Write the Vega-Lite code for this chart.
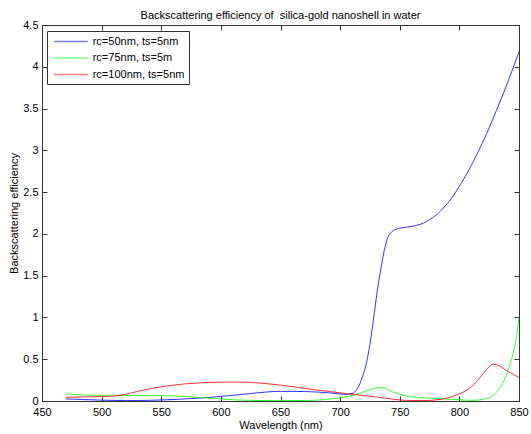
{
  "$schema": "https://vega.github.io/schema/vega-lite/v6.json",
  "width": 477,
  "height": 376,
  "autosize": {"type": "none"},
  "padding": {"left": 42, "top": 25, "right": 12, "bottom": 33},
  "background": "white",
  "config": {
    "font": "Liberation Sans",
    "view": {"stroke": "#333333", "strokeWidth": 1},
    "axis": {"grid": false, "labelFont": "Liberation Sans", "titleFont": "Liberation Sans", "labelFontSize": 11, "titleFontSize": 11, "labelColor": "black", "titleColor": "black", "titleFontWeight": "normal", "domainColor": "#333333", "tickColor": "#333333", "tickSize": -5}
  },
  "title": {"text": "Backscattering efficiency of \u00a0silica-gold nanoshell in water", "font": "Liberation Sans", "fontSize": 11, "fontWeight": "normal", "color": "black", "offset": -2},
  "data": {"values": [
    {"wl": 470, "q": 0.025, "s": "rc=50nm, ts=5nm"},
    {"wl": 480, "q": 0.02, "s": "rc=50nm, ts=5nm"},
    {"wl": 490, "q": 0.015, "s": "rc=50nm, ts=5nm"},
    {"wl": 500, "q": 0.01, "s": "rc=50nm, ts=5nm"},
    {"wl": 510, "q": 0.007, "s": "rc=50nm, ts=5nm"},
    {"wl": 520, "q": 0.005, "s": "rc=50nm, ts=5nm"},
    {"wl": 530, "q": 0.006, "s": "rc=50nm, ts=5nm"},
    {"wl": 540, "q": 0.008, "s": "rc=50nm, ts=5nm"},
    {"wl": 550, "q": 0.012, "s": "rc=50nm, ts=5nm"},
    {"wl": 560, "q": 0.018, "s": "rc=50nm, ts=5nm"},
    {"wl": 570, "q": 0.025, "s": "rc=50nm, ts=5nm"},
    {"wl": 580, "q": 0.033, "s": "rc=50nm, ts=5nm"},
    {"wl": 590, "q": 0.043, "s": "rc=50nm, ts=5nm"},
    {"wl": 600, "q": 0.055, "s": "rc=50nm, ts=5nm"},
    {"wl": 610, "q": 0.068, "s": "rc=50nm, ts=5nm"},
    {"wl": 620, "q": 0.082, "s": "rc=50nm, ts=5nm"},
    {"wl": 630, "q": 0.097, "s": "rc=50nm, ts=5nm"},
    {"wl": 640, "q": 0.11, "s": "rc=50nm, ts=5nm"},
    {"wl": 650, "q": 0.115, "s": "rc=50nm, ts=5nm"},
    {"wl": 660, "q": 0.115, "s": "rc=50nm, ts=5nm"},
    {"wl": 670, "q": 0.113, "s": "rc=50nm, ts=5nm"},
    {"wl": 680, "q": 0.108, "s": "rc=50nm, ts=5nm"},
    {"wl": 690, "q": 0.098, "s": "rc=50nm, ts=5nm"},
    {"wl": 700, "q": 0.085, "s": "rc=50nm, ts=5nm"},
    {"wl": 705, "q": 0.08, "s": "rc=50nm, ts=5nm"},
    {"wl": 710, "q": 0.09, "s": "rc=50nm, ts=5nm"},
    {"wl": 713, "q": 0.12, "s": "rc=50nm, ts=5nm"},
    {"wl": 716, "q": 0.19, "s": "rc=50nm, ts=5nm"},
    {"wl": 719, "q": 0.3, "s": "rc=50nm, ts=5nm"},
    {"wl": 722, "q": 0.45, "s": "rc=50nm, ts=5nm"},
    {"wl": 725, "q": 0.68, "s": "rc=50nm, ts=5nm"},
    {"wl": 728, "q": 0.98, "s": "rc=50nm, ts=5nm"},
    {"wl": 731, "q": 1.3, "s": "rc=50nm, ts=5nm"},
    {"wl": 734, "q": 1.57, "s": "rc=50nm, ts=5nm"},
    {"wl": 737, "q": 1.8, "s": "rc=50nm, ts=5nm"},
    {"wl": 740, "q": 1.96, "s": "rc=50nm, ts=5nm"},
    {"wl": 743, "q": 2.02, "s": "rc=50nm, ts=5nm"},
    {"wl": 746, "q": 2.05, "s": "rc=50nm, ts=5nm"},
    {"wl": 750, "q": 2.07, "s": "rc=50nm, ts=5nm"},
    {"wl": 755, "q": 2.08, "s": "rc=50nm, ts=5nm"},
    {"wl": 760, "q": 2.09, "s": "rc=50nm, ts=5nm"},
    {"wl": 765, "q": 2.105, "s": "rc=50nm, ts=5nm"},
    {"wl": 770, "q": 2.13, "s": "rc=50nm, ts=5nm"},
    {"wl": 775, "q": 2.17, "s": "rc=50nm, ts=5nm"},
    {"wl": 780, "q": 2.22, "s": "rc=50nm, ts=5nm"},
    {"wl": 785, "q": 2.285, "s": "rc=50nm, ts=5nm"},
    {"wl": 790, "q": 2.365, "s": "rc=50nm, ts=5nm"},
    {"wl": 795, "q": 2.46, "s": "rc=50nm, ts=5nm"},
    {"wl": 800, "q": 2.57, "s": "rc=50nm, ts=5nm"},
    {"wl": 805, "q": 2.69, "s": "rc=50nm, ts=5nm"},
    {"wl": 810, "q": 2.82, "s": "rc=50nm, ts=5nm"},
    {"wl": 815, "q": 2.96, "s": "rc=50nm, ts=5nm"},
    {"wl": 820, "q": 3.11, "s": "rc=50nm, ts=5nm"},
    {"wl": 825, "q": 3.27, "s": "rc=50nm, ts=5nm"},
    {"wl": 830, "q": 3.44, "s": "rc=50nm, ts=5nm"},
    {"wl": 835, "q": 3.615, "s": "rc=50nm, ts=5nm"},
    {"wl": 840, "q": 3.795, "s": "rc=50nm, ts=5nm"},
    {"wl": 845, "q": 3.985, "s": "rc=50nm, ts=5nm"},
    {"wl": 850, "q": 4.18, "s": "rc=50nm, ts=5nm"},
    {"wl": 470, "q": 0.085, "s": "rc=75nm, ts=5m"},
    {"wl": 480, "q": 0.075, "s": "rc=75nm, ts=5m"},
    {"wl": 490, "q": 0.07, "s": "rc=75nm, ts=5m"},
    {"wl": 500, "q": 0.068, "s": "rc=75nm, ts=5m"},
    {"wl": 520, "q": 0.066, "s": "rc=75nm, ts=5m"},
    {"wl": 540, "q": 0.065, "s": "rc=75nm, ts=5m"},
    {"wl": 555, "q": 0.063, "s": "rc=75nm, ts=5m"},
    {"wl": 570, "q": 0.055, "s": "rc=75nm, ts=5m"},
    {"wl": 585, "q": 0.04, "s": "rc=75nm, ts=5m"},
    {"wl": 600, "q": 0.025, "s": "rc=75nm, ts=5m"},
    {"wl": 615, "q": 0.012, "s": "rc=75nm, ts=5m"},
    {"wl": 630, "q": 0.006, "s": "rc=75nm, ts=5m"},
    {"wl": 650, "q": 0.004, "s": "rc=75nm, ts=5m"},
    {"wl": 670, "q": 0.006, "s": "rc=75nm, ts=5m"},
    {"wl": 685, "q": 0.015, "s": "rc=75nm, ts=5m"},
    {"wl": 695, "q": 0.03, "s": "rc=75nm, ts=5m"},
    {"wl": 705, "q": 0.05, "s": "rc=75nm, ts=5m"},
    {"wl": 715, "q": 0.085, "s": "rc=75nm, ts=5m"},
    {"wl": 722, "q": 0.12, "s": "rc=75nm, ts=5m"},
    {"wl": 728, "q": 0.15, "s": "rc=75nm, ts=5m"},
    {"wl": 733, "q": 0.16, "s": "rc=75nm, ts=5m"},
    {"wl": 738, "q": 0.15, "s": "rc=75nm, ts=5m"},
    {"wl": 744, "q": 0.11, "s": "rc=75nm, ts=5m"},
    {"wl": 750, "q": 0.08, "s": "rc=75nm, ts=5m"},
    {"wl": 760, "q": 0.05, "s": "rc=75nm, ts=5m"},
    {"wl": 770, "q": 0.038, "s": "rc=75nm, ts=5m"},
    {"wl": 780, "q": 0.03, "s": "rc=75nm, ts=5m"},
    {"wl": 790, "q": 0.022, "s": "rc=75nm, ts=5m"},
    {"wl": 800, "q": 0.015, "s": "rc=75nm, ts=5m"},
    {"wl": 810, "q": 0.008, "s": "rc=75nm, ts=5m"},
    {"wl": 815, "q": 0.01, "s": "rc=75nm, ts=5m"},
    {"wl": 820, "q": 0.02, "s": "rc=75nm, ts=5m"},
    {"wl": 825, "q": 0.04, "s": "rc=75nm, ts=5m"},
    {"wl": 830, "q": 0.09, "s": "rc=75nm, ts=5m"},
    {"wl": 835, "q": 0.18, "s": "rc=75nm, ts=5m"},
    {"wl": 840, "q": 0.33, "s": "rc=75nm, ts=5m"},
    {"wl": 843, "q": 0.46, "s": "rc=75nm, ts=5m"},
    {"wl": 846, "q": 0.63, "s": "rc=75nm, ts=5m"},
    {"wl": 848, "q": 0.78, "s": "rc=75nm, ts=5m"},
    {"wl": 850, "q": 1.0, "s": "rc=75nm, ts=5m"},
    {"wl": 470, "q": 0.045, "s": "rc=100nm, ts=5nm"},
    {"wl": 480, "q": 0.048, "s": "rc=100nm, ts=5nm"},
    {"wl": 490, "q": 0.05, "s": "rc=100nm, ts=5nm"},
    {"wl": 500, "q": 0.053, "s": "rc=100nm, ts=5nm"},
    {"wl": 510, "q": 0.06, "s": "rc=100nm, ts=5nm"},
    {"wl": 520, "q": 0.08, "s": "rc=100nm, ts=5nm"},
    {"wl": 530, "q": 0.115, "s": "rc=100nm, ts=5nm"},
    {"wl": 540, "q": 0.145, "s": "rc=100nm, ts=5nm"},
    {"wl": 550, "q": 0.17, "s": "rc=100nm, ts=5nm"},
    {"wl": 560, "q": 0.19, "s": "rc=100nm, ts=5nm"},
    {"wl": 570, "q": 0.205, "s": "rc=100nm, ts=5nm"},
    {"wl": 580, "q": 0.215, "s": "rc=100nm, ts=5nm"},
    {"wl": 590, "q": 0.222, "s": "rc=100nm, ts=5nm"},
    {"wl": 600, "q": 0.225, "s": "rc=100nm, ts=5nm"},
    {"wl": 610, "q": 0.226, "s": "rc=100nm, ts=5nm"},
    {"wl": 620, "q": 0.225, "s": "rc=100nm, ts=5nm"},
    {"wl": 630, "q": 0.218, "s": "rc=100nm, ts=5nm"},
    {"wl": 640, "q": 0.205, "s": "rc=100nm, ts=5nm"},
    {"wl": 650, "q": 0.19, "s": "rc=100nm, ts=5nm"},
    {"wl": 660, "q": 0.172, "s": "rc=100nm, ts=5nm"},
    {"wl": 670, "q": 0.152, "s": "rc=100nm, ts=5nm"},
    {"wl": 680, "q": 0.133, "s": "rc=100nm, ts=5nm"},
    {"wl": 690, "q": 0.115, "s": "rc=100nm, ts=5nm"},
    {"wl": 700, "q": 0.097, "s": "rc=100nm, ts=5nm"},
    {"wl": 710, "q": 0.08, "s": "rc=100nm, ts=5nm"},
    {"wl": 720, "q": 0.065, "s": "rc=100nm, ts=5nm"},
    {"wl": 730, "q": 0.048, "s": "rc=100nm, ts=5nm"},
    {"wl": 740, "q": 0.03, "s": "rc=100nm, ts=5nm"},
    {"wl": 750, "q": 0.012, "s": "rc=100nm, ts=5nm"},
    {"wl": 760, "q": 0.006, "s": "rc=100nm, ts=5nm"},
    {"wl": 770, "q": 0.005, "s": "rc=100nm, ts=5nm"},
    {"wl": 780, "q": 0.012, "s": "rc=100nm, ts=5nm"},
    {"wl": 790, "q": 0.035, "s": "rc=100nm, ts=5nm"},
    {"wl": 800, "q": 0.085, "s": "rc=100nm, ts=5nm"},
    {"wl": 805, "q": 0.12, "s": "rc=100nm, ts=5nm"},
    {"wl": 810, "q": 0.17, "s": "rc=100nm, ts=5nm"},
    {"wl": 815, "q": 0.24, "s": "rc=100nm, ts=5nm"},
    {"wl": 820, "q": 0.33, "s": "rc=100nm, ts=5nm"},
    {"wl": 825, "q": 0.41, "s": "rc=100nm, ts=5nm"},
    {"wl": 828, "q": 0.44, "s": "rc=100nm, ts=5nm"},
    {"wl": 832, "q": 0.43, "s": "rc=100nm, ts=5nm"},
    {"wl": 836, "q": 0.4, "s": "rc=100nm, ts=5nm"},
    {"wl": 840, "q": 0.36, "s": "rc=100nm, ts=5nm"},
    {"wl": 845, "q": 0.32, "s": "rc=100nm, ts=5nm"},
    {"wl": 850, "q": 0.28, "s": "rc=100nm, ts=5nm"}
  ]},
  "layer": [
    {
      "mark": {"type": "line", "strokeWidth": 0.8, "interpolate": "monotone", "clip": true},
      "encoding": {
        "x": {"field": "wl", "type": "quantitative", "scale": {"domain": [450, 850], "nice": false, "zero": false},
              "axis": {"title": "Wavelength (nm)", "values": [450, 500, 550, 600, 650, 700, 750, 800, 850], "labelPadding": 10.5, "titlePadding": 1.5, "labelFlush": false}},
        "y": {"field": "q", "type": "quantitative", "scale": {"domain": [0, 4.5], "nice": false},
              "axis": {"title": "Backscattering efficiency", "format": "~g", "values": [0, 0.5, 1, 1.5, 2, 2.5, 3, 3.5, 4, 4.5], "labelPadding": 9, "titlePadding": 3, "labelFlush": false}},
        "color": {"field": "s", "type": "nominal",
                  "scale": {"domain": ["rc=50nm, ts=5nm", "rc=75nm, ts=5m", "rc=100nm, ts=5nm"], "range": ["#0000ff", "#00ff00", "#ff0000"]},
                  "legend": {"title": null, "orient": "none", "legendX": 5, "legendY": 6, "symbolType": "M-0.65,0H5.36", "symbolSize": 128, "symbolStrokeWidth": 1.5, "symbolOpacity": 0.5, "labelFont": "Liberation Sans", "labelFontSize": 11, "labelColor": "black", "labelOffset": 28.7, "strokeColor": "#333333", "fillColor": "white", "padding": 4, "rowPadding": 4.5}}
      }
    },
    {
      "mark": {"type": "line", "opacity": 0},
      "encoding": {
        "x": {"field": "wl", "type": "quantitative", "axis": {"orient": "top", "labels": false, "title": null, "values": [450, 500, 550, 600, 650, 700, 750, 800, 850]}},
        "y": {"field": "q", "type": "quantitative", "axis": {"orient": "right", "labels": false, "title": null, "values": [0, 0.5, 1, 1.5, 2, 2.5, 3, 3.5, 4, 4.5]}},
        "detail": {"field": "s"}
      }
    }
  ],
  "resolve": {"axis": {"x": "independent", "y": "independent"}}
}
